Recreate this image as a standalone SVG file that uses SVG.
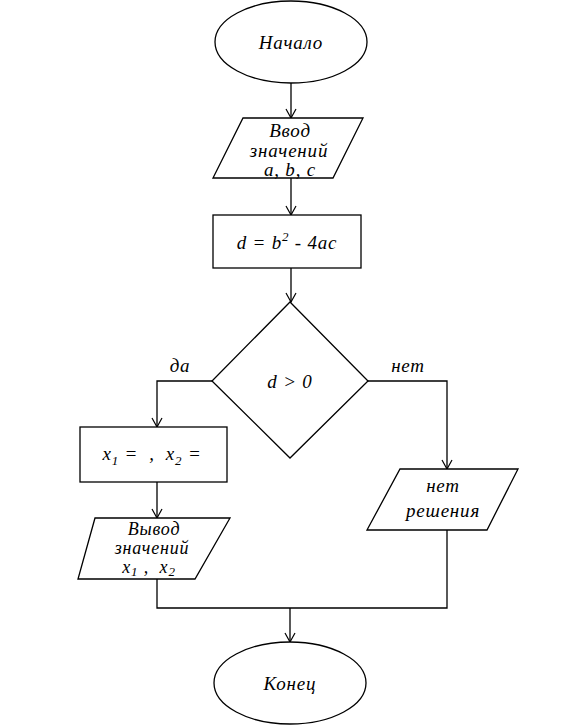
<svg xmlns="http://www.w3.org/2000/svg" width="582" height="728" viewBox="0 0 582 728">
<style>
.s{fill:#fff;stroke:#000;stroke-width:1.3}
.c{fill:none;stroke:#000;stroke-width:1.3}
text{font-family:"Liberation Serif","Times New Roman",serif;font-style:italic;font-size:19px;letter-spacing:0.8px;fill:#000;text-anchor:middle;white-space:pre}
.sub{font-size:13px}
.o{font-size:18px}
</style>
<defs>
<marker id="a" markerUnits="userSpaceOnUse" markerWidth="14" markerHeight="14" refX="10" refY="6" orient="auto">
<path d="M1,1 L10,6 L1,11" fill="none" stroke="#000" stroke-width="1.2"/>
</marker>
</defs>
<rect width="582" height="728" fill="#fff"/>
<g id="connectors">
<line class="c" x1="291" y1="83" x2="291" y2="118" marker-end="url(#a)"/>
<line class="c" x1="291" y1="178" x2="291" y2="215" marker-end="url(#a)"/>
<line class="c" x1="291" y1="268" x2="291" y2="302" marker-end="url(#a)"/>
<polyline class="c" points="212,381 157,381 157,427" marker-end="url(#a)"/>
<polyline class="c" points="368,381 447,381 447,469" marker-end="url(#a)"/>
<line class="c" x1="157" y1="482" x2="157" y2="518" marker-end="url(#a)"/>
<polyline class="c" points="157,579 157,608 447,608 447,530"/>
<line class="c" x1="290" y1="608" x2="290" y2="642" marker-end="url(#a)"/>
<text x="180" y="372">да</text>
<text x="408" y="372">нет</text>
</g>
<g id="start">
<ellipse class="s" cx="291" cy="42" rx="76" ry="41"/>
<text x="291" y="49">Начало</text>
</g>
<g id="input">
<polygon class="s" points="243,118 363,118 333,178 213,178"/>
<text x="290" y="137">Ввод</text>
<text x="289" y="157">значений</text>
<text x="290" y="176">a, b, c</text>
</g>
<g id="calc">
<rect class="s" x="213" y="215" width="148" height="53"/>
<text x="287" y="249">d = b<tspan class="sub" dy="-8">2</tspan><tspan dy="8"> - 4ac</tspan></text>
</g>
<g id="cond">
<polygon class="s" points="290,302 368,381 290,458 212,381"/>
<text x="290" y="388">d &gt; 0</text>
</g>
<g id="roots">
<rect class="s" x="80" y="427" width="147" height="55"/>
<text x="152" y="460">x<tspan class="sub" dy="5">1</tspan><tspan dy="-5"> =  ,  x</tspan><tspan class="sub" dy="5">2</tspan><tspan dy="-5"> =</tspan></text>
</g>
<g id="output">
<polygon class="s" points="95,518 230,518 195,579 78,579"/>
<text class="o" x="154" y="535">Вывод</text>
<text class="o" x="152" y="554">значений</text>
<text class="o" x="149" y="573">x<tspan class="sub" dy="3">1</tspan><tspan dy="-3"> ,  x</tspan><tspan class="sub" dy="3">2</tspan></text>
</g>
<g id="nosol">
<polygon class="s" points="400,469 518,469 487,530 367,530"/>
<text x="443" y="492">нет</text>
<text x="443" y="517">решения</text>
</g>
<g id="end">
<ellipse class="s" cx="290" cy="683" rx="76" ry="41"/>
<text x="290" y="690">Конец</text>
</g>
</svg>
